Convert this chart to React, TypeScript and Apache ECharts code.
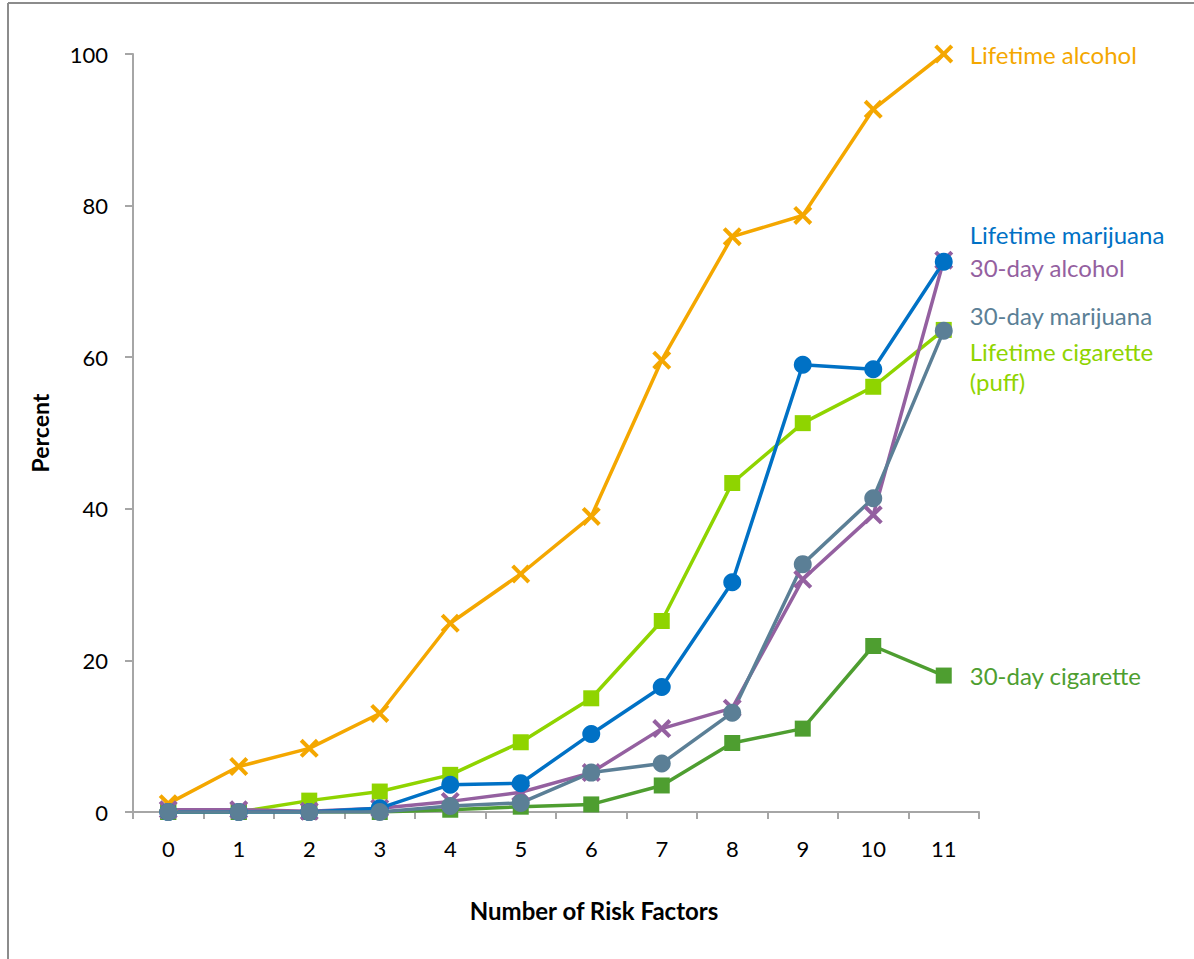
import React, { useEffect, useRef } from "react";
import * as echarts from "echarts";

const categories = ["0", "1", "2", "3", "4", "5", "6", "7", "8", "9", "10", "11"];
const lifetimeAlcohol = [1.1, 6.0, 8.4, 13.0, 24.9, 31.4, 39.0, 59.6, 75.9, 78.7, 92.7, 100];
const lifetimeCigarette = [0, 0, 1.5, 2.7, 4.9, 9.2, 15.0, 25.2, 43.4, 51.3, 56.1, 63.6];
const thirtyDayCigarette = [0, 0, 0, 0, 0.3, 0.7, 1.0, 3.5, 9.1, 11.0, 21.9, 18.0];
const thirtyDayAlcohol = [0.3, 0.3, 0.1, 0.5, 1.4, 2.6, 5.2, 11.0, 13.7, 30.7, 39.2, 72.8];
const lifetimeMarijuana = [0, 0, 0, 0.5, 3.6, 3.8, 10.3, 16.5, 30.3, 59.0, 58.4, 72.6];
const thirtyDayMarijuana = [0, 0, 0, 0, 0.8, 1.2, 5.2, 6.4, 13.1, 32.7, 41.4, 63.5];
const yTicks = [0, 20, 40, 60, 80, 100];

const FONT = "Lato, 'Open Sans', sans-serif";
const X_SYMBOL =
  "path://M0,3 L3,0 L10,7 L17,0 L20,3 L13,10 L20,17 L17,20 L10,13 L3,20 L0,17 L7,10 Z";

type S = {
  name: string;
  label: string;
  data: number[];
  color: string;
  symbol: string;
  size: number;
  dy: number;
};

const seriesDefs: S[] = [
  { name: "Lifetime alcohol", label: "Lifetime alcohol", data: lifetimeAlcohol, color: "#F4A700", symbol: X_SYMBOL, size: 19, dy: 0 },
  { name: "Lifetime cigarette (puff)", label: "Lifetime cigarette\n(puff)", data: lifetimeCigarette, color: "#8FD400", symbol: "rect", size: 16, dy: 37 },
  { name: "30-day cigarette", label: "30-day cigarette", data: thirtyDayCigarette, color: "#4E9E30", symbol: "rect", size: 16, dy: 0 },
  { name: "30-day alcohol", label: "30-day alcohol", data: thirtyDayAlcohol, color: "#9460A0", symbol: X_SYMBOL, size: 19, dy: 7 },
  { name: "Lifetime marijuana", label: "Lifetime marijuana", data: lifetimeMarijuana, color: "#0071C5", symbol: "circle", size: 18, dy: -27 },
  { name: "30-day marijuana", label: "30-day marijuana", data: thirtyDayMarijuana, color: "#5B7F96", symbol: "circle", size: 18, dy: -15 },
];

export default function App() {
  const ref = useRef<HTMLDivElement>(null);
  useEffect(() => {
    if (!ref.current) return;
    const chart = echarts.init(ref.current, undefined, { renderer: "svg" });
    chart.setOption({
      animation: false,
      backgroundColor: "#ffffff",
      grid: { left: 133, right: 215, top: 54, bottom: 147, containLabel: false },
      xAxis: {
        type: "category",
        data: categories,
        boundaryGap: true,
        name: "Number of Risk Factors",
        nameLocation: "middle",
        nameGap: 86,
        nameTextStyle: {
          fontFamily: FONT,
          fontSize: 24,
          fontWeight: "bold",
          color: "#000",
          padding: [0, 0, 0, 76],
        },
        axisLine: { lineStyle: { color: "#a6a6a6", width: 2 } },
        axisTick: { show: true, length: 7, lineStyle: { color: "#a6a6a6", width: 2 } },
        axisLabel: { fontFamily: FONT, fontSize: 22, color: "#000", margin: 25 },
        splitLine: { show: false },
      },
      yAxis: {
        type: "value",
        min: 0,
        max: 100,
        interval: 20,
        name: "Percent",
        nameLocation: "middle",
        nameGap: 82,
        nameRotate: 90,
        nameTextStyle: { fontFamily: FONT, fontSize: 23, fontWeight: "bold", color: "#000" },
        axisLine: { show: true, lineStyle: { color: "#a6a6a6", width: 2 } },
        axisTick: { show: true, length: 8, lineStyle: { color: "#a6a6a6", width: 2 } },
        axisLabel: {
          fontFamily: FONT,
          fontSize: 22,
          color: "#000",
          margin: 25,
          formatter: (v: number) => (yTicks.includes(v) ? String(v) : ""),
        },
        splitLine: { show: false },
      },
      graphic: [
        { type: "line", shape: { x1: 8, y1: 3, x2: 8, y2: 959 }, style: { stroke: "#8c8c8c", lineWidth: 2 } },
        { type: "line", shape: { x1: 8, y1: 3, x2: 1194, y2: 3 }, style: { stroke: "#8c8c8c", lineWidth: 2 } },
      ],
      series: seriesDefs.map((s) => ({
        type: "line",
        name: s.name,
        data: s.data,
        symbol: s.symbol,
        symbolSize: s.size,
        showAllSymbol: true,
        lineStyle: { color: s.color, width: 3.5 },
        itemStyle: { color: s.color, borderWidth: 0 },
        emphasis: { disabled: true },
        endLabel: {
          show: true,
          formatter: () => s.label,
          color: s.color,
          fontFamily: FONT,
          fontSize: 24,
          lineHeight: 30,
          distance: 26,
          offset: [0, s.dy],
          align: "left",
        },
      })),
    });
    return () => chart.dispose();
  }, []);
  return (
    <div
      ref={ref}
      style={{ position: "fixed", left: 0, top: 0, width: 1194, height: 959, background: "#fff" }}
    />
  );
}
